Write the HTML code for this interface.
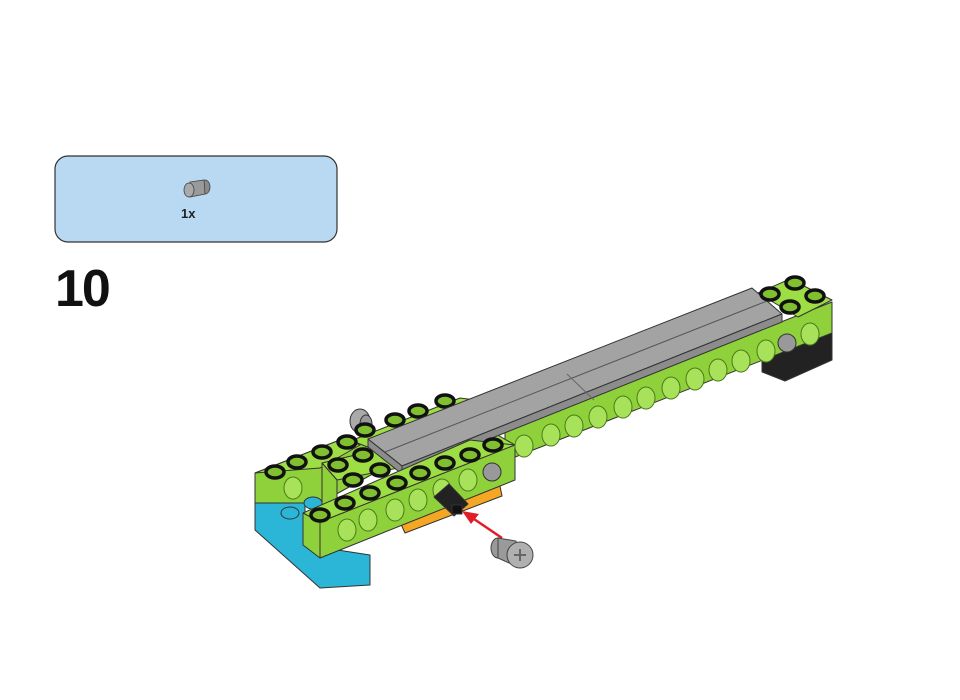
<!DOCTYPE html>
<html><head><meta charset="utf-8"><style>
html,body{margin:0;padding:0;background:#fff;width:960px;height:700px;overflow:hidden}
svg{display:block}
</style></head><body>
<svg width="960" height="700" viewBox="0 0 960 700">
<g>
<rect x="55" y="156" width="282" height="86" rx="13" fill="#b9d8f1" stroke="#333" stroke-width="1.2"/>
<g stroke="#444" stroke-width="0.8">
<ellipse cx="205" cy="187" rx="5" ry="7" fill="#8a8a8a"/>
<polygon points="190,182 204,180 205,194 190,197" fill="#9a9a9a"/>
<ellipse cx="189" cy="190" rx="5" ry="7" fill="#aaa"/>
</g>
<text x="181" y="218" font-family="Liberation Sans, sans-serif" font-weight="bold" font-size="13" fill="#222">1x</text>
</g>
<text x="55" y="306" font-family="Liberation Sans, sans-serif" font-weight="bold" font-size="52" fill="#111" letter-spacing="-2">10</text>

<g stroke="#333" stroke-width="1" stroke-linejoin="round">
<polygon points="762,358 832,333 832,360 785,381 762,372" fill="#222"/>
<polygon points="400,522 500,486 502,496 405,533" fill="#f5a623"/>
<polygon points="505,430 832,302 832,333 505,461" fill="#8fd13a"/>
<polygon points="758,293 790,279 832,300 798,317" fill="#9ede45"/>
<polygon points="340,445 460,398 540,408 370,455" fill="#9ede45"/>
<g>
<ellipse cx="360" cy="421" rx="10" ry="12" fill="#aaa"/>
<ellipse cx="366" cy="424" rx="6" ry="9" fill="#999"/>
</g>
<g id="studs-back"></g>
<polygon points="255,473 345,438 380,452 380,470 320,503 255,503" fill="#8fd13a"/>
<polygon points="255,473 345,438 360,445 320,468" fill="#9ede45"/>
<polygon points="322,463 480,425 515,445 337,480" fill="#9ede45"/>
<polygon points="322,463 337,480 337,515 322,505" fill="#8fd13a"/>
<polygon points="368,439 752,288 782,314 402,466" fill="#a3a3a3"/>
<polygon points="368,439 402,466 402,474 368,447" fill="#8c8c8c"/>
<polygon points="402,466 782,314 782,322 402,474" fill="#8c8c8c"/>
<line x1="385" y1="452" x2="767" y2="301" stroke="#555"/>
<line x1="567" y1="374" x2="594" y2="400" stroke="#666"/>
<polygon points="255,503 305,503 305,545 370,555 370,585 320,588 255,530" fill="#2bb6d8"/>
<ellipse cx="290" cy="513" rx="9" ry="6" fill="#2bb6d8"/>
<ellipse cx="313" cy="503" rx="9" ry="6" fill="#2bb6d8"/>
<polygon points="303,513 470,440 515,445 320,522" fill="#9ede45"/>
<polygon points="320,522 515,445 515,480 320,558" fill="#8fd13a"/>
<polygon points="303,513 320,522 320,558 303,545" fill="#8fd13a"/>
<g id="holes"></g>
<g id="studs"></g>
<polygon points="434,497 449,484 468,504 454,516" fill="#222"/>
<rect x="452" y="505" width="10" height="9" fill="#111"/>
</g>
<g>
<line x1="502" y1="538" x2="471" y2="517" stroke="#e01e25" stroke-width="2.5"/>
<polygon points="462,511 479,514 471,524" fill="#e01e25"/>
</g>
<g stroke="#444" stroke-width="1">
<ellipse cx="498" cy="548" rx="7" ry="10" fill="#999"/>
<polygon points="498,538 516,541 518,567 498,558" fill="#9a9a9a"/>
<circle cx="520" cy="555" r="13" fill="#b0b0b0"/>
<path d="M514 555h12M520 549v12" stroke="#666" stroke-width="2"/>
</g>
</svg>
<script>
const backStuds=[[365,430],[395,420],[418,411],[445,401]];
const frontStuds=[[275,472],[297,462],[322,452],[347,442],
[338,465],[363,455],[353,480],[380,470],[370,493],[397,483],[420,473],[445,463],[470,455],[493,445],
[320,515],[345,503],
[770,294],[795,283],[790,307],[815,296]];
const holePts=[[293,488],[347,530],[368,520],[395,510],[418,500],[442,490],[468,480],
[524,446],[551,435],[574,426],[598,417],[623,407],[646,398],[671,388],[695,379],[718,370],[741,361],[766,351],[810,334]];
const ns="http://www.w3.org/2000/svg";
const hg=document.getElementById('holes');
holePts.forEach(p=>{const e=document.createElementNS(ns,'ellipse');


e.setAttribute('cx',p[0]);e.setAttribute('cy',p[1]);e.setAttribute('rx',9);e.setAttribute('ry',11);
e.setAttribute('fill','#a8e25a');e.setAttribute('stroke','#4a7a18');hg.appendChild(e);});
const gh=document.createElementNS(ns,'circle');


gh.setAttribute('cx',787);gh.setAttribute('cy',343);gh.setAttribute('r',9);gh.setAttribute('fill','#999');gh.setAttribute('stroke','#333');
hg.appendChild(gh);
const gh2=document.createElementNS(ns,'circle');


gh2.setAttribute('cx',492);gh2.setAttribute('cy',472);gh2.setAttribute('r',9);gh2.setAttribute('fill','#999');gh2.setAttribute('stroke','#333');
hg.appendChild(gh2);
function drawStuds(list,id){const g=document.getElementById(id);
list.forEach(p=>{const e=document.createElementNS(ns,'ellipse');


e.setAttribute('cx',p[0]);e.setAttribute('cy',p[1]);e.setAttribute('rx',9);e.setAttribute('ry',6);
e.setAttribute('fill','#7fbf30');e.setAttribute('stroke','#111');e.setAttribute('stroke-width','3.5');g.appendChild(e);});}
drawStuds(backStuds,'studs-back');
drawStuds(frontStuds,'studs');
</script>
</body></html>
